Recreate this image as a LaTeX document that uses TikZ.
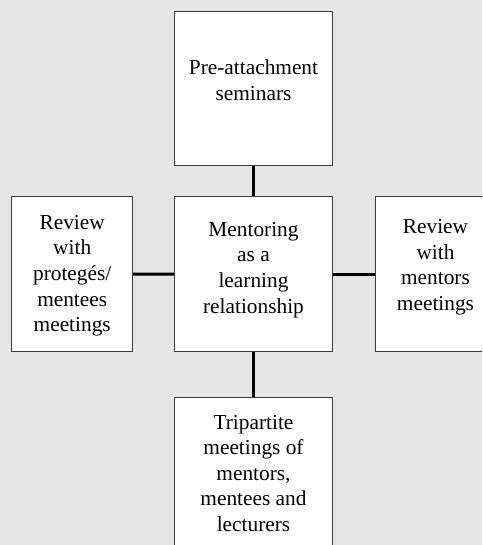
\documentclass[tikz,border=0pt]{standalone}
\usepackage{fontspec}
\setmainfont{Liberation Serif}
\definecolor{bggray}{RGB}{230,230,230}
\definecolor{framegray}{RGB}{60,60,60}
\tikzset{
  box/.style={draw=framegray, line width=0.75pt, fill=white, inner sep=0pt},
  boxtext/.style={inner sep=0pt, align=center, font=\fontsize{16}{19.2}\selectfont},
  link/.style={line width=2.25pt}
}
\begin{document}
\begin{tikzpicture}[x=0.75pt,y=0.75pt,yscale=-1,xscale=1]
        %set diagram left start at 0, and has height of 545
        \fill[bggray] (0,0) rectangle (482,545);
        \useasboundingbox (0,0) rectangle (482,545);
        \clip (0,0) rectangle (482,545);

        %Shape: Rectangle [id:pre]
        \node[box, minimum width=118.8pt, minimum height=115.3pt] (pre) at (253.5,88.8) {};
        %Shape: Rectangle [id:mentoring]
        \node[box, minimum width=118.8pt, minimum height=116.3pt] (mentoring) at (253.5,274.2) {};
        %Shape: Rectangle [id:protege]
        \node[box, minimum width=90.75pt, minimum height=116.6pt] (protege) at (72.2,274) {};
        %Shape: Rectangle [id:mentors]
        \node[box, minimum width=90.75pt, minimum height=116.3pt] (mentors) at (435.5,274.2) {};
        %Shape: Rectangle [id:tripartite]
        \node[box, minimum width=118.8pt, minimum height=116.3pt] (tripartite) at (253.5,475) {};

        %Straight Lines [id:pre-mentoring]
        \draw[link] (pre) -- (mentoring);
        %Straight Lines [id:mentoring-tripartite]
        \draw[link] (mentoring) -- (tripartite);
        %Straight Lines [id:protege-mentoring]
        \draw[link] (protege) -- (mentoring);
        %Straight Lines [id:mentoring-mentors]
        \draw[link] (mentoring) -- (mentors);

        % Text Node
        \node[boxtext] (pre-txt) at (253.5,80.5) {Pre-attachment\\seminars};
        % Text Node
        \node[boxtext] (mentoring-txt) at (253.5,270) {Mentoring\\as a\\learning\\relationship};
        % Text Node
        \node[boxtext] (protege-txt) at (72.2,275.7) {Review\\with\\protegés/\\mentees\\meetings};
        % Text Node
        \node[boxtext] (mentors-txt) at (435.5,267.3) {Review\\with\\mentors\\meetings};
        % Text Node
        \node[boxtext] (tripartite-txt) at (253.5,473.4) {Tripartite\\meetings of\\mentors,\\mentees and\\lecturers};

\end{tikzpicture}
\end{document}
